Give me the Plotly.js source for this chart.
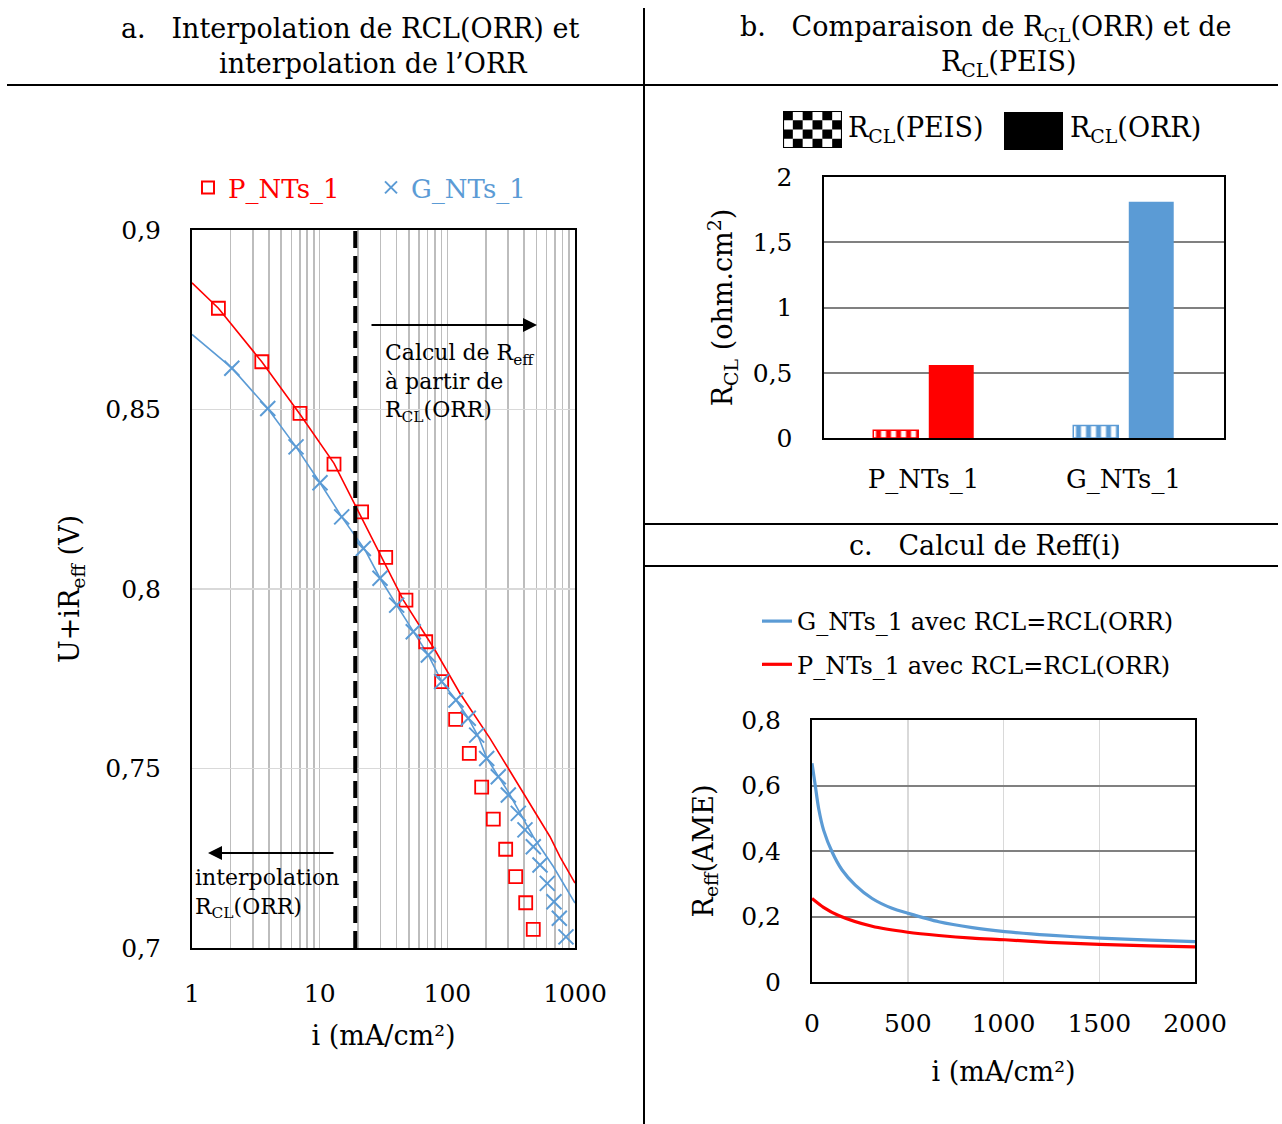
<!DOCTYPE html>
<html><head><meta charset="utf-8">
<script src="https://cdn.plot.ly/plotly-3.0.1.min.js"></script>
<style>html,body{margin:0;padding:0;background:#fff;}#chart{width:1282px;height:1124px;}</style>
</head><body><div id="chart"></div>
<script>
// ---------- Panel a : polarisation curves ----------
const pCurrent = [1.61, 3.52, 7.01, 12.95, 21.3, 32.9, 47.4, 67.7, 90.3, 116.2, 148.6, 185.8, 229.1, 286.4, 343, 411, 471];
const pVoltage = [0.8782, 0.8633, 0.8489, 0.8348, 0.8215, 0.8088, 0.7969, 0.7853, 0.7742, 0.7637, 0.7542, 0.7448, 0.7359, 0.7275, 0.7199, 0.7126, 0.7052];
const gCurrent = [2.05, 3.92, 6.53, 10.06, 14.88, 21.97, 29.7, 40.1, 54.1, 71.0, 90.3, 116.9, 145.9, 169.8, 203.4, 250.7, 300.4, 359.6, 405.7, 471.3, 531.9, 606.6, 684.5, 753.5, 849.8];
const gVoltage = [0.8615, 0.8503, 0.8396, 0.8296, 0.8201, 0.8113, 0.8030, 0.7955, 0.7881, 0.7816, 0.7742, 0.7691, 0.7640, 0.7593, 0.7528, 0.7477, 0.7426, 0.7375, 0.7329, 0.7282, 0.7231, 0.7180, 0.7129, 0.7083, 0.7031];
const pFitCurrent = [1, 1.61, 3.52, 7.01, 12.95, 29.7, 45.2, 80.0, 125.7, 215.8, 393.7, 637, 763, 1000];
const pFitVoltage = [0.8853, 0.8782, 0.8633, 0.8487, 0.8350, 0.8099, 0.7969, 0.7830, 0.7709, 0.7584, 0.7431, 0.7310, 0.7254, 0.7181];
const gFitCurrent = [1, 2.05, 3.92, 6.53, 10.06, 14.88, 22.65, 29.7, 40.1, 54.1, 71.0, 90.3, 116.9, 145.9, 174.9, 203.4, 300, 471, 676, 1000];
const gFitVoltage = [0.8709, 0.8616, 0.8503, 0.8396, 0.8296, 0.8201, 0.8109, 0.8030, 0.7955, 0.7881, 0.7816, 0.7742, 0.7691, 0.7640, 0.7589, 0.7529, 0.7435, 0.7310, 0.7227, 0.7125];
const thresholdCurrent = 19;
const aXTickVals = [1, 10, 100, 1000];
const aXTickText = ['1', '10', '100', '1000'];
const aYTickVals = [0.7, 0.75, 0.8, 0.85, 0.9];
const aYTickText = ['0,7', '0,75', '0,8', '0,85', '0,9'];

// ---------- Panel b : R_CL comparison ----------
const categories = ['P_NTs_1', 'G_NTs_1'];
const rclPEIS = [0.06, 0.095];
const rclORR = [0.56, 1.81];
const bYTickVals = [0, 0.5, 1, 1.5, 2];
const bYTickText = ['0', '0,5', '1', '1,5', '2'];

// ---------- Panel c : Reff(i) ----------
const gReffCurrent = [0, 17, 35, 61, 105, 157, 226, 314, 418, 500, 662, 837, 1007, 1236, 1501, 1766, 2000];
const gReff = [0.668, 0.600, 0.529, 0.463, 0.397, 0.342, 0.296, 0.255, 0.225, 0.210, 0.184, 0.166, 0.154, 0.143, 0.134, 0.128, 0.123];
const pReffCurrent = [0, 60, 139, 314, 500, 662, 837, 1007, 1236, 1501, 1766, 2000];
const pReff = [0.255, 0.228, 0.203, 0.170, 0.152, 0.142, 0.134, 0.129, 0.121, 0.115, 0.110, 0.107];
const cXTickVals = [0, 500, 1000, 1500, 2000];
const cXTickText = ['0', '500', '1000', '1500', '2000'];
const cYTickVals = [0, 0.2, 0.4, 0.6, 0.8];
const cYTickText = ['0', '0,2', '0,4', '0,6', '0,8'];

// ---------- styling ----------
const RED = '#ff0000', BLUE = '#5b9bd5';
const barColors = [RED, BLUE];
const FONT = 'DejaVu Serif';
const W = 1282, H = 1124;
const fx = p => p / W;
const fy = p => 1 - p / H;

const traces = [
  {x: pFitCurrent, y: pFitVoltage, mode: 'lines', line: {color: RED, width: 1.6}, showlegend: false, xaxis: 'x', yaxis: 'y', hoverinfo: 'skip'},
  {x: gFitCurrent, y: gFitVoltage, mode: 'lines', line: {color: BLUE, width: 1.6}, showlegend: false, xaxis: 'x', yaxis: 'y', hoverinfo: 'skip'},
  {x: pCurrent, y: pVoltage, mode: 'markers', name: '<span style="color:#ff0000">P_NTs_1</span>',
   marker: {symbol: 'square-open', size: 13, color: RED, line: {width: 1.8, color: RED}}, xaxis: 'x', yaxis: 'y', legend: 'legend'},
  {x: gCurrent, y: gVoltage, mode: 'markers', name: '<span style="color:#5b9bd5">G_NTs_1</span>',
   marker: {symbol: 'x-thin-open', size: 15, color: BLUE, line: {width: 2, color: BLUE}}, xaxis: 'x', yaxis: 'y', legend: 'legend'},
  {type: 'bar', x: categories, y: rclPEIS, name: 'RCL(PEIS)', showlegend: false, xaxis: 'x2', yaxis: 'y2',
   marker: {color: barColors, line: {color: barColors, width: 1.5},
            pattern: {shape: '|', fgcolor: barColors, bgcolor: '#ffffff', size: 10, solidity: 0.5, fillmode: 'replace'}}},
  {type: 'bar', x: categories, y: rclORR, name: 'RCL(ORR)', showlegend: false, xaxis: 'x2', yaxis: 'y2',
   marker: {color: barColors, line: {width: 0}}},
  {x: gReffCurrent, y: gReff, mode: 'lines', name: 'G_NTs_1 avec RCL=RCL(ORR)', line: {color: BLUE, width: 3.2, shape: 'spline', smoothing: 0.8},
   xaxis: 'x3', yaxis: 'y3', legend: 'legend3', legendgroup: 'g'},
  {x: pReffCurrent, y: pReff, mode: 'lines', name: 'P_NTs_1 avec RCL=RCL(ORR)', line: {color: RED, width: 3.2, shape: 'spline', smoothing: 0.8},
   xaxis: 'x3', yaxis: 'y3', legend: 'legend3', legendgroup: 'p'}
];

const tickFont = {family: FONT, size: 25, color: '#000'};
const titleFont = {family: FONT, size: 27, color: '#000'};
const boxAxis = {showline: true, mirror: true, linecolor: '#000', linewidth: 2, zeroline: false, ticks: '', tickfont: tickFont, fixedrange: true};

const checker = (() => {
  let r = '';
  for (let i = 0; i < 6; i++) for (let j = 0; j < 4; j++) if ((i + j) % 2 === 0) r += `<rect x="${i}" y="${j}" width="1" height="1" fill="#000"/>`;
  const svg = `<svg xmlns="http://www.w3.org/2000/svg" viewBox="0 0 6 4" width="60" height="36" preserveAspectRatio="none"><rect width="6" height="4" fill="#fff"/>${r}<rect x="0.05" y="0.05" width="5.9" height="3.9" fill="none" stroke="#000" stroke-width="0.12"/></svg>`;
  return 'data:image/svg+xml;charset=utf-8,' + encodeURIComponent(svg);
})();

const sep = (x0, y0, x1, y1) => ({type: 'line', xref: 'paper', yref: 'paper', x0: fx(x0), y0: fy(y0), x1: fx(x1), y1: fy(y1), line: {color: '#000', width: 2}});
const txt = (t, x, y, size, xanchor, extra) => Object.assign({text: t, xref: 'paper', yref: 'paper', x: fx(x), y: fy(y), xanchor: xanchor || 'center', yanchor: 'middle', showarrow: false, font: {family: FONT, size: size, color: '#000'}}, extra || {});
const NB = '\u00a0';

const layout = {
  width: W, height: H, margin: {l: 0, r: 0, t: 0, b: 0},
  paper_bgcolor: '#fff', plot_bgcolor: '#fff',
  separators: ', ',
  font: {family: FONT, size: 24, color: '#000'},
  barmode: 'group', bargap: 0.445, bargroupgap: 0.19,
  hovermode: false,
  xaxis: Object.assign({}, boxAxis, {type: 'log', domain: [fx(192), fx(575)], range: [0, 3], anchor: 'y',
    tickmode: 'array', tickvals: aXTickVals, ticktext: aXTickText, ticklabelstandoff: 22,
    showgrid: true, gridcolor: '#bfbfbf', gridwidth: 1.5,
    minor: {dtick: 'D1', showgrid: true, gridcolor: '#bdbdbd', gridwidth: 1.6, ticks: ''},
    title: {text: 'i (mA/cm²)', font: titleFont, standoff: 19}}),
  yaxis: Object.assign({}, boxAxis, {domain: [fy(948), fy(230)], range: [0.7, 0.9], anchor: 'x',
    tickmode: 'array', tickvals: aYTickVals, ticktext: aYTickText, ticklabelstandoff: 24,
    showgrid: true, gridcolor: '#d9d9d9', gridwidth: 1.5,
    title: {text: 'U+iR<sub>eff</sub> (V)', font: titleFont, standoff: 18}}),
  xaxis2: Object.assign({}, boxAxis, {type: 'category', domain: [fx(823.5), fx(1223.5)], anchor: 'y2',
    showgrid: false, ticklabelstandoff: 17, tickfont: {family: FONT, size: 26, color: '#000'}}),
  yaxis2: Object.assign({}, boxAxis, {domain: [fy(438), fy(177)], range: [0, 2], anchor: 'x2',
    tickmode: 'array', tickvals: bYTickVals, ticktext: bYTickText, ticklabelstandoff: 24,
    showgrid: true, gridcolor: '#808080', gridwidth: 2,
    title: {text: 'R<sub>CL</sub> (ohm.cm<sup>2</sup>)', font: titleFont, standoff: 12}}),
  xaxis3: Object.assign({}, boxAxis, {domain: [fx(812), fx(1195)], range: [0, 2000], anchor: 'y3',
    tickmode: 'array', tickvals: cXTickVals, ticktext: cXTickText, ticklabelstandoff: 18,
    showgrid: true, gridcolor: '#d9d9d9', gridwidth: 1.5,
    title: {text: 'i (mA/cm²)', font: titleFont, standoff: 25}}),
  yaxis3: Object.assign({}, boxAxis, {domain: [fy(982), fy(720)], range: [0, 0.8], anchor: 'x3',
    tickmode: 'array', tickvals: cYTickVals, ticktext: cYTickText, ticklabelstandoff: 24,
    showgrid: true, gridcolor: '#808080', gridwidth: 2,
    title: {text: 'R<sub>eff</sub>(AME)', font: titleFont, standoff: 20}}),
  legend: {orientation: 'h', x: fx(188), y: fy(164), xanchor: 'left', yanchor: 'top', bgcolor: 'rgba(0,0,0,0)',
    font: {family: FONT, size: 26}, entrywidth: 138, entrywidthmode: 'pixels', itemsizing: 'constant'},
  legend3: {orientation: 'v', x: fx(757), y: fy(599), xanchor: 'left', yanchor: 'top', bgcolor: 'rgba(0,0,0,0)',
    font: {family: FONT, size: 24, color: '#000'}, tracegroupgap: 9},
  shapes: [
    sep(644, 8, 644, 1124),
    sep(7, 85, 1278, 85),
    sep(644, 524, 1278, 524),
    sep(644, 566, 1278, 566),
    {type: 'line', xref: 'x', yref: 'y domain', x0: thresholdCurrent, x1: thresholdCurrent, y0: 0, y1: 1.006,
     line: {color: '#000', width: 4, dash: '17px,8px'}},
    {type: 'rect', xref: 'paper', yref: 'paper', x0: fx(1004), x1: fx(1063), y0: fy(150), y1: fy(112), fillcolor: '#000', line: {width: 0}}
  ],
  images: [{source: checker, xref: 'paper', yref: 'paper', x: fx(783), y: fy(111), sizex: fx(842) - fx(783), sizey: 37 / H,
    xanchor: 'left', yanchor: 'top', sizing: 'stretch', layer: 'above'}],
  annotations: [
    txt('a.' + NB + NB + NB + 'Interpolation de RCL(ORR) et', 350, 28, 27),
    txt('interpolation de l’ORR', 373, 63, 27),
    txt('b.' + NB + NB + NB + 'Comparaison de R<sub>CL</sub>(ORR) et de', 986, 28, 27),
    txt('R<sub>CL</sub>(PEIS)', 1009, 63, 27),
    txt('c.' + NB + NB + NB + 'Calcul de Reff(i)', 985, 545, 27),
    txt('R<sub>CL</sub>(PEIS)', 846, 129, 27, 'left'),
    txt('R<sub>CL</sub>(ORR)', 1068, 129, 27, 'left'),
    txt('Calcul de R<sub>eff</sub><br>à partir de<br>R<sub>CL</sub>(ORR)', 383, 383, 22, 'left', {align: 'left'}),
    txt('interpolation<br>R<sub>CL</sub>(ORR)', 193, 893, 22, 'left', {align: 'left'}),
    {text: '', xref: 'paper', yref: 'paper', x: fx(537), y: fy(325), ax: -167, ay: 0, axref: 'pixel', ayref: 'pixel',
     showarrow: true, arrowhead: 2, arrowsize: 1.4, arrowwidth: 2, arrowcolor: '#000'},
    {text: '', xref: 'paper', yref: 'paper', x: fx(208), y: fy(853), ax: 127, ay: 0, axref: 'pixel', ayref: 'pixel',
     showarrow: true, arrowhead: 2, arrowsize: 1.4, arrowwidth: 2, arrowcolor: '#000'}
  ]
};

Plotly.newPlot('chart', traces, layout, {staticPlot: true, displayModeBar: false});
</script>
</body></html>
